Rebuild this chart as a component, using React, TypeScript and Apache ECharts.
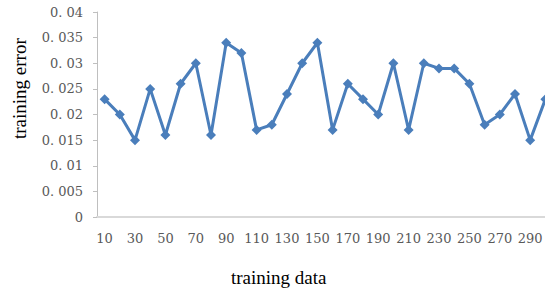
import React, { useEffect, useRef } from "react";
import * as echarts from "echarts";

const categories = [
  "10", "20", "30", "40", "50", "60", "70", "80", "90", "100",
  "110", "120", "130", "140", "150", "160", "170", "180", "190", "200",
  "210", "220", "230", "240", "250", "260", "270", "280", "290", "300",
];
const trainingError = [
  0.023, 0.020, 0.015, 0.025, 0.016, 0.026, 0.030, 0.016, 0.034, 0.032,
  0.017, 0.018, 0.024, 0.030, 0.034, 0.017, 0.026, 0.023, 0.020, 0.030,
  0.017, 0.030, 0.029, 0.029, 0.026, 0.018, 0.020, 0.024, 0.015, 0.023,
];
const yTickLabels = ["0", "0. 005", "0. 01", "0. 015", "0. 02", "0. 025", "0. 03", "0. 035", "0. 04"];
const xTitle = "training data";
const yTitle = "training error";

export default function App() {
  const ref = useRef<HTMLDivElement>(null);
  useEffect(() => {
    if (!ref.current) return;
    document.body.style.overflow = "hidden";
    const chart = echarts.init(ref.current, undefined, { renderer: "svg" });
    chart.setOption({
      animation: false,
      backgroundColor: "#ffffff",
      grid: { left: 97, top: 12, bottom: 76, right: 0, containLabel: false },
      xAxis: {
        type: "category",
        data: categories,
        boundaryGap: true,
        axisLine: { show: true, lineStyle: { color: "#d9d9d9", width: 2 } },
        axisTick: { show: false },
        axisLabel: {
          interval: 1,
          margin: 15,
          color: "#595959",
          fontFamily: "DejaVu Serif",
          fontSize: 13,
        },
        splitLine: { show: false },
      },
      yAxis: {
        type: "value",
        min: 0,
        max: 0.04,
        interval: 0.005,
        axisLine: { show: true, lineStyle: { color: "#bfbfbf", width: 1 } },
        axisTick: { show: true, length: 4, lineStyle: { color: "#bfbfbf" } },
        axisLabel: {
          margin: 14,
          color: "#595959",
          fontFamily: "DejaVu Serif",
          fontSize: 13,
          formatter: (v: number) => yTickLabels[Math.round(v / 0.005)] ?? String(v),
        },
        splitLine: { show: false },
      },
      graphic: [
        {
          type: "text",
          left: 231,
          top: 268,
          style: {
            text: xTitle,
            fontFamily: "Liberation Serif",
            fontSize: 19,
            fill: "#000000",
          },
        },
        {
          type: "text",
          x: 10,
          y: 139,
          rotation: Math.PI / 2,
          style: {
            text: yTitle,
            fontFamily: "Liberation Serif",
            fontSize: 19,
            fill: "#000000",
            textVerticalAlign: "top",
          },
        },
      ],
      series: [
        {
          type: "line",
          data: trainingError,
          symbol: "diamond",
          symbolSize: 10,
          showAllSymbol: true,
          lineStyle: { color: "#4a7ebb", width: 3 },
          itemStyle: { color: "#4a7ebb" },
        },
      ],
    });
    return () => chart.dispose();
  }, []);
  return (
    <div
      ref={ref}
      style={{ position: "fixed", left: 0, top: 0, width: 553, height: 293 }}
    />
  );
}
